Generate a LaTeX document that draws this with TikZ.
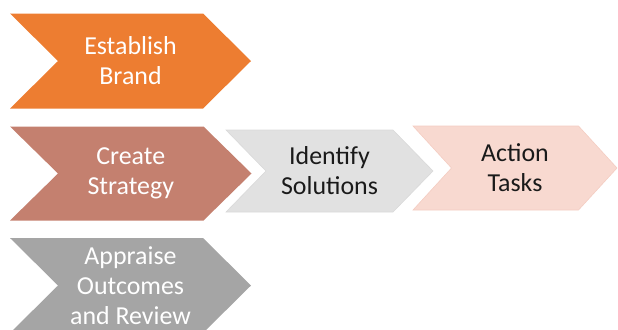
\documentclass[tikz,border=0pt]{standalone}
\usepackage{fontspec}
\setmainfont{Carlito}
\definecolor{accOrange}{HTML}{ED7D31}
\definecolor{accRose}{HTML}{C4806F}
\definecolor{accGrey}{HTML}{A5A5A5}
\definecolor{lightGrey}{HTML}{E1E1E1}
\definecolor{lightGreyEdge}{HTML}{D9D9D9}
\definecolor{lightPink}{HTML}{F8D9D0}
\definecolor{lightPinkEdge}{HTML}{F4CDC2}
\definecolor{darkText}{HTML}{1A1A1A}

\tikzset{
  chevO/.style={fill=accOrange},
  chevR/.style={fill=accRose},
  chevG/.style={fill=accGrey},
  chevL/.style={fill=lightGrey, draw=lightGreyEdge, line width=0.6bp},
  chevP/.style={fill=lightPink, draw=lightPinkEdge, line width=0.6bp},
  lblW/.style={text=white, align=center, inner sep=0pt, font=\fontsize{26}{30}\selectfont},
  lblD/.style={text=darkText, align=center, inner sep=0pt, font=\fontsize{26}{30}\selectfont},
}

% #1 name, #2 left, #3 top, #4 right, #5 bottom, #6 point depth,
% #7 shape style, #8 label style, #9 label
\newcommand\chevronstep[9]{%
  \path[#7] (#2,#3) -- (#4-#6,#3) -- (#4,{(#3+#5)/2}) -- (#4-#6,#5)
    -- (#2,#5) -- (#2+#6,{(#3+#5)/2}) -- cycle;
  \node[#8] (#1) at ({(#2+#4)/2},{(#3+#5)/2}) {#9};
}

\begin{document}
\begin{tikzpicture}[x=1bp, y=-1bp]
  \useasboundingbox (0,0) rectangle (618,329);
  \begin{scope}
    \clip (0,0) rectangle (618,329);
    \chevronstep{brand}{10}{13.5}{251}{108.5}{48}{chevO}{lblW}{Establish\\Brand}
    \chevronstep{strategy}{10}{126.5}{251.5}{220.5}{48}{chevR}{lblW}{Create\\Strategy}
    \chevronstep{solutions}{226}{130}{433}{212}{40}{chevL}{lblD}{Identify\\Solutions}
    \chevronstep{tasks}{413}{126}{617}{210}{38.5}{chevP}{lblD}{Action\\Tasks}
    \chevronstep{review}{10}{238}{251}{333}{48}{chevG}{lblW}{Appraise\\Outcomes\\and Review}
  \end{scope}
\end{tikzpicture}
\end{document}
